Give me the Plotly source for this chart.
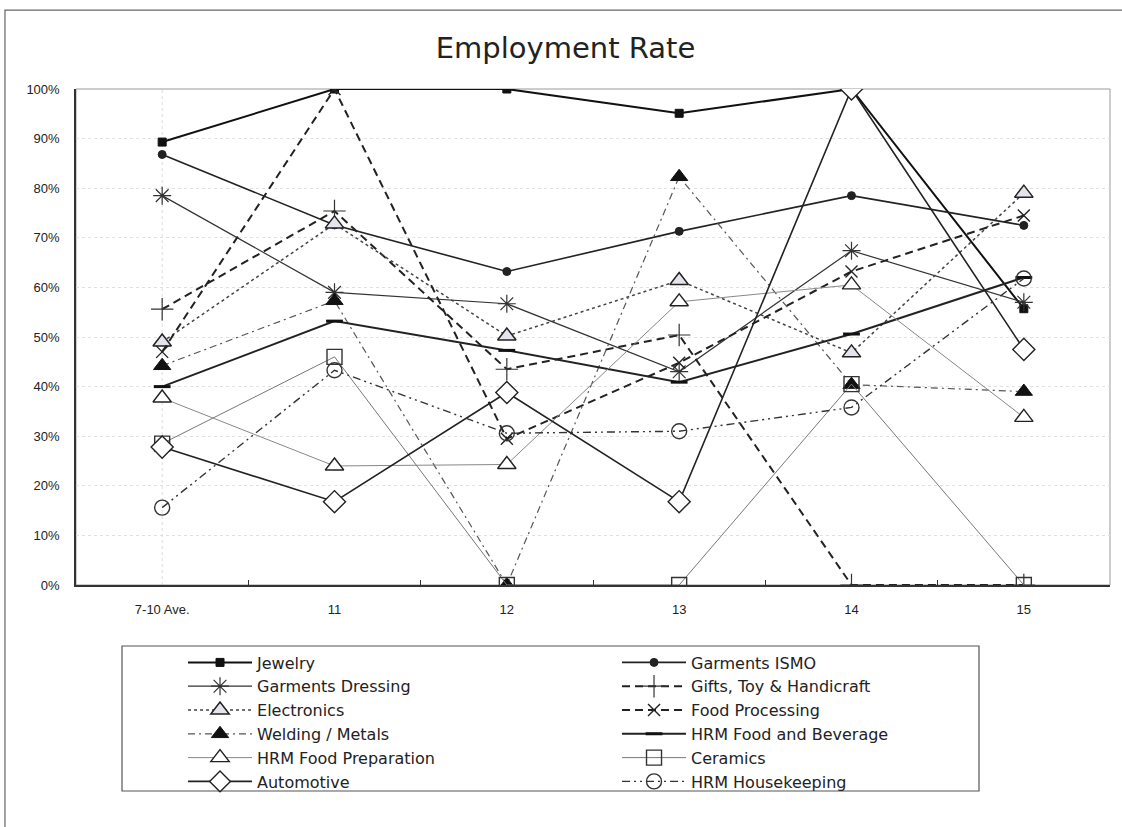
import plotly.graph_objects as go

categories = ["7-10 Ave.", "11", "12", "13", "14", "15"]

jewelry = [89.3, 100, 100, 95.1, 100, 55.7]
garments_ismo = [86.8, 72.6, 63.2, 71.3, 78.5, 72.5]
garments_dressing = [78.5, 59.0, 56.7, 43.0, 67.4, 57.0]
gifts_toy = [55.6, 75.4, 43.5, 50.4, 0, 0]
electronics = [49.0, 72.8, 50.2, 61.4, 46.8, 79.0]
food_processing = [47.0, 100, 29.5, 44.8, 63.2, 74.5]
welding_metals = [44.2, 57.3, 0, 82.3, 40.4, 39.0]
hrm_food_bev = [40.0, 53.2, 47.3, 40.9, 50.6, 62.0]
hrm_food_prep = [37.7, 24.0, 24.3, 57.1, 60.5, 33.8]
ceramics = [28.5, 46.0, 0, 0, 40.5, 0]
automotive = [27.8, 16.8, 38.8, 16.8, 100, 47.5]
hrm_housekeeping = [15.6, 43.3, 30.6, 31.0, 35.8, 61.8]

y_ticks = [0, 10, 20, 30, 40, 50, 60, 70, 80, 90, 100]

series = [
    ("Jewelry", jewelry, dict(color="#111", width=2, dash="solid"),
     dict(symbol="square", size=8, color="#111", line=dict(color="#111", width=1))),
    ("Garments ISMO", garments_ismo, dict(color="#222", width=1.6, dash="solid"),
     dict(symbol="circle", size=8, color="#222", line=dict(color="#222", width=1))),
    ("Garments Dressing", garments_dressing, dict(color="#333", width=1.2, dash="solid"),
     dict(symbol="asterisk-open", size=15, color="#333", line=dict(color="#333", width=1.2))),
    ("Gifts, Toy & Handicraft", gifts_toy, dict(color="#222", width=2, dash="8px,5px"),
     dict(symbol="cross-thin-open", size=16, color="#333", line=dict(color="#333", width=1.2))),
    ("Electronics", electronics, dict(color="#444", width=1.5, dash="dot"),
     dict(symbol="triangle-up", size=16, color="#e4e4ec", line=dict(color="#222", width=1.5))),
    ("Food Processing", food_processing, dict(color="#222", width=2, dash="8px,5px"),
     dict(symbol="x-thin-open", size=12, color="#222", line=dict(color="#222", width=1.4))),
    ("Welding / Metals", welding_metals, dict(color="#555", width=1.2, dash="7px,4px,2px,4px"),
     dict(symbol="triangle-up", size=15, color="#111", line=dict(color="#111", width=1))),
    ("HRM Food and Beverage", hrm_food_bev, dict(color="#222", width=2, dash="solid"),
     dict(symbol="line-ew-open", size=12, color="#111", line=dict(color="#111", width=3))),
    ("HRM Food Preparation", hrm_food_prep, dict(color="#888", width=1, dash="solid"),
     dict(symbol="triangle-up", size=16, color="white", line=dict(color="#222", width=1.4))),
    ("Ceramics", ceramics, dict(color="#777", width=1, dash="solid"),
     dict(symbol="square", size=15, color="rgba(255,255,255,0)", line=dict(color="#333", width=1.4))),
    ("Automotive", automotive, dict(color="#222", width=1.6, dash="solid"),
     dict(symbol="diamond", size=17, color="white", line=dict(color="#222", width=1.4))),
    ("HRM Housekeeping", hrm_housekeeping, dict(color="#333", width=1.4, dash="8px,4px,2px,4px,2px,4px"),
     dict(symbol="circle", size=15, color="rgba(255,255,255,0)", line=dict(color="#333", width=1.4))),
]

fig = go.Figure()
for name, vals, line, marker in series:
    fig.add_trace(go.Scatter(
        x=categories, y=[v / 100 for v in vals], name=name, mode="lines+markers",
        line=line, marker=marker,
    ))

tick_font = "Liberation Sans, Arial, sans-serif"
text_font = "DejaVu Sans, sans-serif"

shapes = []
for c in categories:
    shapes.append(dict(type="line", xref="x", yref="paper", x0=c, x1=c, y0=0, y1=1,
                       line=dict(color="#dcdcdc", width=1, dash="dot"), layer="below"))
shapes.append(dict(type="rect", xref="paper", yref="paper", x0=0, x1=1, y0=0, y1=1,
                   line=dict(color="#999", width=1), layer="below"))
shapes.append(dict(type="rect", xref="paper", yref="paper", x0=0.0445, x1=0.8733,
                   y0=-0.4153, y1=-0.123, line=dict(color="#555", width=1.2)))
shapes.append(dict(type="rect", xref="paper", yref="paper", x0=-0.0687, x1=1.2,
                   y0=-0.7, y1=1.159, line=dict(color="#666", width=1.2)))

fig.update_layout(
    width=1122, height=827,
    margin=dict(l=76, r=12, t=89, b=242, autoexpand=False),
    paper_bgcolor="white", plot_bgcolor="white",
    font=dict(family=tick_font, color="#222", size=13),
    title=dict(text="Employment Rate", x=0.504, xref="container", xanchor="center",
               y=0.942, yref="container", yanchor="middle",
               font=dict(size=29, family=text_font, color="#222")),
    xaxis=dict(
        type="category", range=[-0.5, 5.5], showgrid=False,
        tickson="boundaries", ticks="inside", ticklen=5, tickcolor="#333",
        showline=True, linecolor="#333", linewidth=1.5,
        ticklabelstandoff=12, tickfont=dict(size=13),
    ),
    yaxis=dict(
        range=[0, 1], tickvals=[t / 100 for t in y_ticks], tickformat=".0%",
        showgrid=True, gridcolor="#e0e0e0", griddash="dot", gridwidth=1,
        showline=True, linecolor="#333", linewidth=1.5, zeroline=False,
        ticks="", ticklabelstandoff=12, tickfont=dict(size=13),
    ),
    showlegend=True,
    legend=dict(
        orientation="h", x=0.1035, y=-0.122, xanchor="left", yanchor="top",
        entrywidth=355, entrywidthmode="pixels", itemwidth=64,
        font=dict(size=16, family=text_font), bgcolor="rgba(0,0,0,0)",
        traceorder="normal", itemclick=False,
    ),
    shapes=shapes,
)

fig.write_html("out.html")
